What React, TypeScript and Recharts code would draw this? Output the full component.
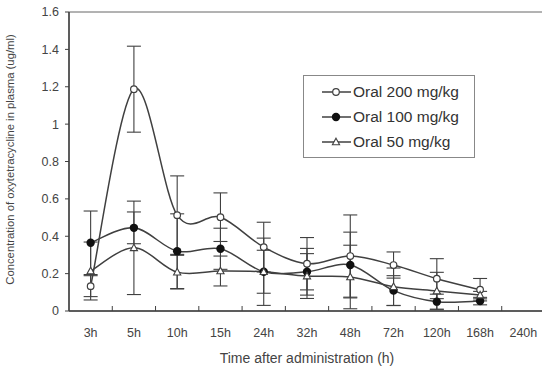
import { LineChart, Line, XAxis, YAxis, ErrorBar, ReferenceArea, Label } from "recharts";

const categories = ["3h", "5h", "10h", "15h", "24h", "32h", "48h", "72h", "120h", "168h", "240h"];

const oral200 = [0.133, 1.187, 0.513, 0.502, 0.342, 0.253, 0.294, 0.246, 0.173, 0.114];
const sd200 = [0.056, 0.23, 0.21, 0.13, 0.133, 0.14, 0.22, 0.07, 0.107, 0.06];

const oral100 = [0.365, 0.445, 0.32, 0.333, 0.21, 0.21, 0.246, 0.109, 0.05, 0.053];
const sd100 = [0.17, 0.085, 0.2, 0.11, 0.18, 0.125, 0.176, 0.08, 0.04, 0.02];

const oral50 = [0.214, 0.338, 0.208, 0.214, 0.21, 0.187, 0.182, 0.13, 0.107, 0.085];
const sd50 = [0.155, 0.25, 0.09, 0.08, 0.115, 0.12, 0.17, 0.1, 0.1, 0.02];

const yTicks = [0, 0.2, 0.4, 0.6, 0.8, 1, 1.2, 1.4, 1.6];

const INK = "#404040";
const FONT = "Arial, 'Liberation Sans', sans-serif";

// each category sits in the middle of its slot, slot edges get the small inner ticks
const data = oral200.map((v, i) => ({
  x: i + 0.5,
  o200: v, e200: sd200[i],
  o100: oral100[i], e100: sd100[i],
  o50: oral50[i], e50: sd50[i],
}));

const xTicks: number[] = [];
for (let i = 0; i <= categories.length * 2; i++) xTicks.push(i / 2);

// smoothed line like the spreadsheet one (catmull-rom through the points)
function smoothCurve(context: any) {
  let pts: number[][] = [];
  return {
    areaStart() {},
    areaEnd() {},
    lineStart() { pts = []; },
    point(x: number, y: number) { pts.push([+x, +y]); },
    lineEnd() {
      const n = pts.length;
      if (!n) return;
      context.moveTo(pts[0][0], pts[0][1]);
      const t = 1 / 6;
      for (let i = 0; i < n - 1; i++) {
        const p0 = pts[Math.max(i - 1, 0)];
        const p1 = pts[i];
        const p2 = pts[i + 1];
        const p3 = pts[Math.min(i + 2, n - 1)];
        context.bezierCurveTo(
          p1[0] + (p2[0] - p0[0]) * t, p1[1] + (p2[1] - p0[1]) * t,
          p2[0] - (p3[0] - p1[0]) * t, p2[1] - (p3[1] - p1[1]) * t,
          p2[0], p2[1]
        );
      }
    },
  };
}

function OpenCircle({ cx, cy }: any) {
  if (cx == null || cy == null) return null;
  return <circle cx={cx} cy={cy} r={3.3} fill="#fff" stroke={INK} strokeWidth={1.2} />;
}
function FilledCircle({ cx, cy }: any) {
  if (cx == null || cy == null) return null;
  return <circle cx={cx} cy={cy} r={4.2} fill="#111" />;
}
function OpenTriangle({ cx, cy }: any) {
  if (cx == null || cy == null) return null;
  return (
    <path d={`M${cx},${cy - 3.8}L${cx + 3.6},${cy + 2.8}L${cx - 3.6},${cy + 2.8}Z`} fill="#fff" stroke={INK} strokeWidth={1.1} />
  );
}

function XTick({ x, y, payload }: any) {
  const v = payload.value;
  if (Number.isInteger(v)) {
    if (v <= 0 || v >= categories.length) return null;
    return <line x1={x} y1={y} x2={x} y2={y - 5} stroke={INK} strokeWidth={1} />;
  }
  return (
    <text x={x} y={y + 26} textAnchor="middle" fontSize={12.5} fill="#444" fontFamily={FONT}>
      {categories[Math.floor(v)]}
    </text>
  );
}

const legendItems = [
  { name: "Oral 200 mg/kg", Mark: OpenCircle },
  { name: "Oral 100 mg/kg", Mark: FilledCircle },
  { name: "Oral 50 mg/kg", Mark: OpenTriangle },
];

function LegendBox() {
  return (
    <div style={{ position: "absolute", left: 303, top: 75, border: "1px solid #888", width: 172, height: 83, padding: "3px 0 0 0", boxSizing: "border-box", background: "#fff" }}>
      {legendItems.map(({ name, Mark }) => (
        <div key={name} style={{ display: "flex", alignItems: "center", height: 25, fontFamily: FONT, fontSize: 15.5, color: "#333" }}>
          <svg width={48} height={14} style={{ flex: "none" }}>
            <line x1={18} y1={7} x2={47} y2={7} stroke={INK} strokeWidth={1.5} />
            <Mark cx={32} cy={7} />
          </svg>
          <span style={{ marginLeft: 1 }}>{name}</span>
        </div>
      ))}
    </div>
  );
}

export default function App() {
  return (
    <div style={{ position: "absolute", left: 0, top: 0, width: 542, height: 371, overflow: "hidden", background: "#fff" }}>
      <LineChart width={548} height={371} data={data} margin={{ top: 12, right: 3, bottom: 0, left: 0 }}>
        <ReferenceArea x1={0} x2={categories.length} y1={0} y2={1.6} fill="none" stroke="#666" strokeWidth={1} ifOverflow="visible" />
        <XAxis
          dataKey="x"
          type="number"
          domain={[0, categories.length]}
          ticks={xTicks}
          interval={0}
          tick={<XTick />}
          tickLine={false}
          tickSize={0}
          tickMargin={0}
          height={60}
          axisLine={{ stroke: INK, strokeWidth: 1.5 }}
        >
          <Label value="Time after administration (h)" position="insideBottom" offset={8} fill="#444" fontSize={14} fontFamily={FONT} />
        </XAxis>
        <YAxis
          type="number"
          domain={[0, 1.6]}
          ticks={yTicks}
          interval={0}
          width={69}
          tickSize={4}
          tickMargin={6}
          tickFormatter={(v: number) => String(+v.toFixed(1))}
          tick={{ fontSize: 12.5, fill: "#444", fontFamily: FONT }}
          tickLine={{ stroke: INK }}
          axisLine={{ stroke: INK, strokeWidth: 1.5 }}
        >
          <Label
            value="Concentration of oxytetracycline in plasma (ug/ml)"
            angle={-90}
            position="insideLeft"
            offset={10}
            dy={-2}
            style={{ textAnchor: "middle" }}
            fill="#444"
            fontSize={11.3}
            fontFamily={FONT}
          />
        </YAxis>
        <Line dataKey="o200" name="Oral 200 mg/kg" type={smoothCurve as any} stroke={INK} strokeWidth={1.5} dot={<OpenCircle />} activeDot={false} isAnimationActive={false}>
          <ErrorBar dataKey="e200" direction="y" width={7} stroke={INK} strokeWidth={1.1} />
        </Line>
        <Line dataKey="o100" name="Oral 100 mg/kg" type={smoothCurve as any} stroke={INK} strokeWidth={1.5} dot={<FilledCircle />} activeDot={false} isAnimationActive={false}>
          <ErrorBar dataKey="e100" direction="y" width={7} stroke={INK} strokeWidth={1.1} />
        </Line>
        <Line dataKey="o50" name="Oral 50 mg/kg" type={smoothCurve as any} stroke={INK} strokeWidth={1.5} dot={<OpenTriangle />} activeDot={false} isAnimationActive={false}>
          <ErrorBar dataKey="e50" direction="y" width={7} stroke={INK} strokeWidth={1.1} />
        </Line>
      </LineChart>
      <LegendBox />
    </div>
  );
}
